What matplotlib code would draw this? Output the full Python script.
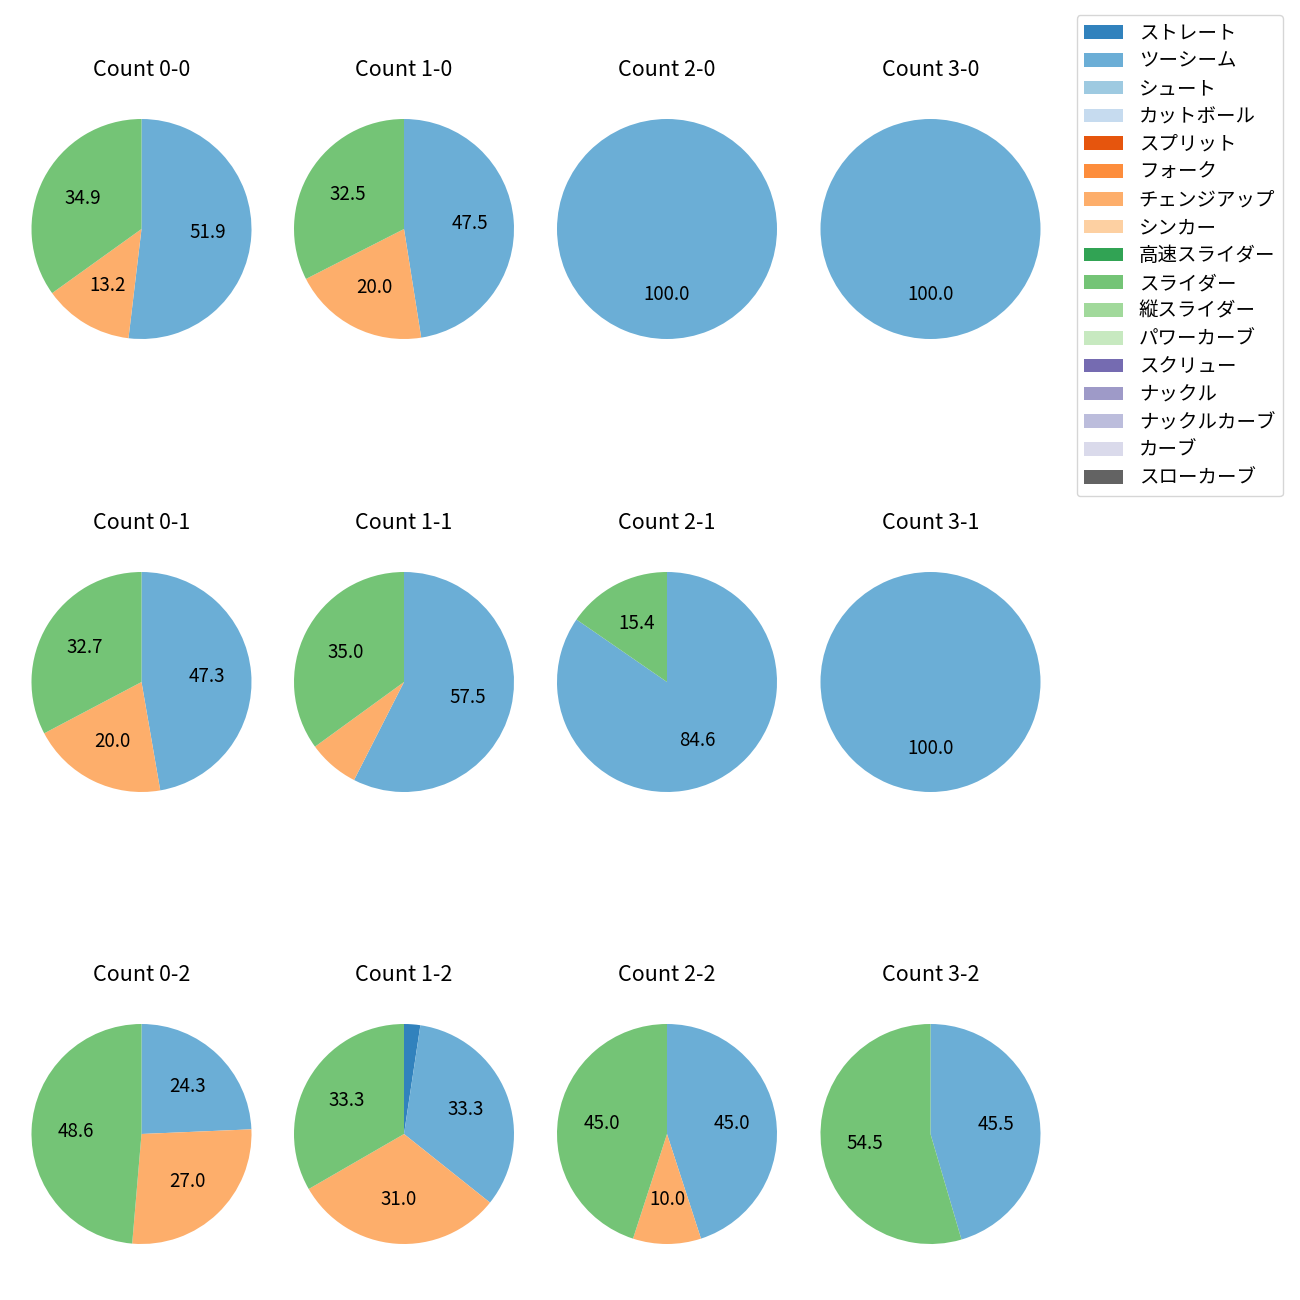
import matplotlib
matplotlib.use("Agg")
import matplotlib.pyplot as plt
from matplotlib.patches import Patch

plt.rcParams['font.family'] = ['Noto Sans CJK JP', 'DejaVu Sans']

# 球種と色 (tab20c)
pitch_types = ["ストレート", "ツーシーム", "シュート", "カットボール", "スプリット", "フォーク",
               "チェンジアップ", "シンカー", "高速スライダー", "スライダー", "縦スライダー",
               "パワーカーブ", "スクリュー", "ナックル", "ナックルカーブ", "カーブ", "スローカーブ"]
pitch_colors = ["#3182bd", "#6baed6", "#9ecae1", "#c6dbef", "#e6550d", "#fd8d3c",
                "#fdae6b", "#fdd0a2", "#31a354", "#74c476", "#a1d99b", "#c7e9c0",
                "#756bb1", "#9e9ac8", "#bcbddc", "#dadaeb", "#636363"]

# カウント別の投球数 (球種名: 球数)
count_labels = ["0-0", "1-0", "2-0", "3-0",
                "0-1", "1-1", "2-1", "3-1",
                "0-2", "1-2", "2-2", "3-2"]
count_0_0 = {"ツーシーム": 55, "チェンジアップ": 14, "スライダー": 37}
count_1_0 = {"ツーシーム": 19, "チェンジアップ": 8, "スライダー": 13}
count_2_0 = {"ツーシーム": 3}
count_3_0 = {"ツーシーム": 2}
count_0_1 = {"ツーシーム": 26, "チェンジアップ": 11, "スライダー": 18}
count_1_1 = {"ツーシーム": 23, "チェンジアップ": 3, "スライダー": 14}
count_2_1 = {"ツーシーム": 11, "スライダー": 2}
count_3_1 = {"ツーシーム": 2}
count_0_2 = {"ツーシーム": 9, "チェンジアップ": 10, "スライダー": 18}
count_1_2 = {"ストレート": 1, "ツーシーム": 14, "チェンジアップ": 13, "スライダー": 14}
count_2_2 = {"ツーシーム": 9, "チェンジアップ": 2, "スライダー": 9}
count_3_2 = {"ツーシーム": 5, "スライダー": 6}

all_counts = [count_0_0, count_1_0, count_2_0, count_3_0,
              count_0_1, count_1_1, count_2_1, count_3_1,
              count_0_2, count_1_2, count_2_2, count_3_2]

fig = plt.figure(figsize=(13, 13), dpi=100)

col_x = [141.5, 404, 667, 930.5]
row_y = [229, 682, 1134]
box = 275

for i, (lab, data) in enumerate(zip(count_labels, all_counts)):
    cx = col_x[i % 4]
    cy = row_y[i // 4]
    ax = fig.add_axes([(cx - box / 2) / 1300, 1 - (cy + box / 2) / 1300, box / 1300, box / 1300])
    names = [p for p in pitch_types if p in data]
    vals = [data[p] for p in names]
    cols = [pitch_colors[pitch_types.index(p)] for p in names]
    ax.pie(vals, colors=cols, startangle=90, counterclock=False,
           autopct=lambda p: f"{p:.1f}" if p >= 10 else "",
           textprops={'fontsize': 13.5})
    ax.set_title("Count " + lab, fontsize=15.5, pad=11)

handles = [Patch(facecolor=c, label=p) for p, c in zip(pitch_types, pitch_colors)]
fig.legend(handles=handles, loc="upper right", bbox_to_anchor=(1283 / 1300, 1 - 15 / 1300),
           borderaxespad=0, fontsize=14, labelspacing=0.35)

fig.savefig("out.png", dpi=100)
